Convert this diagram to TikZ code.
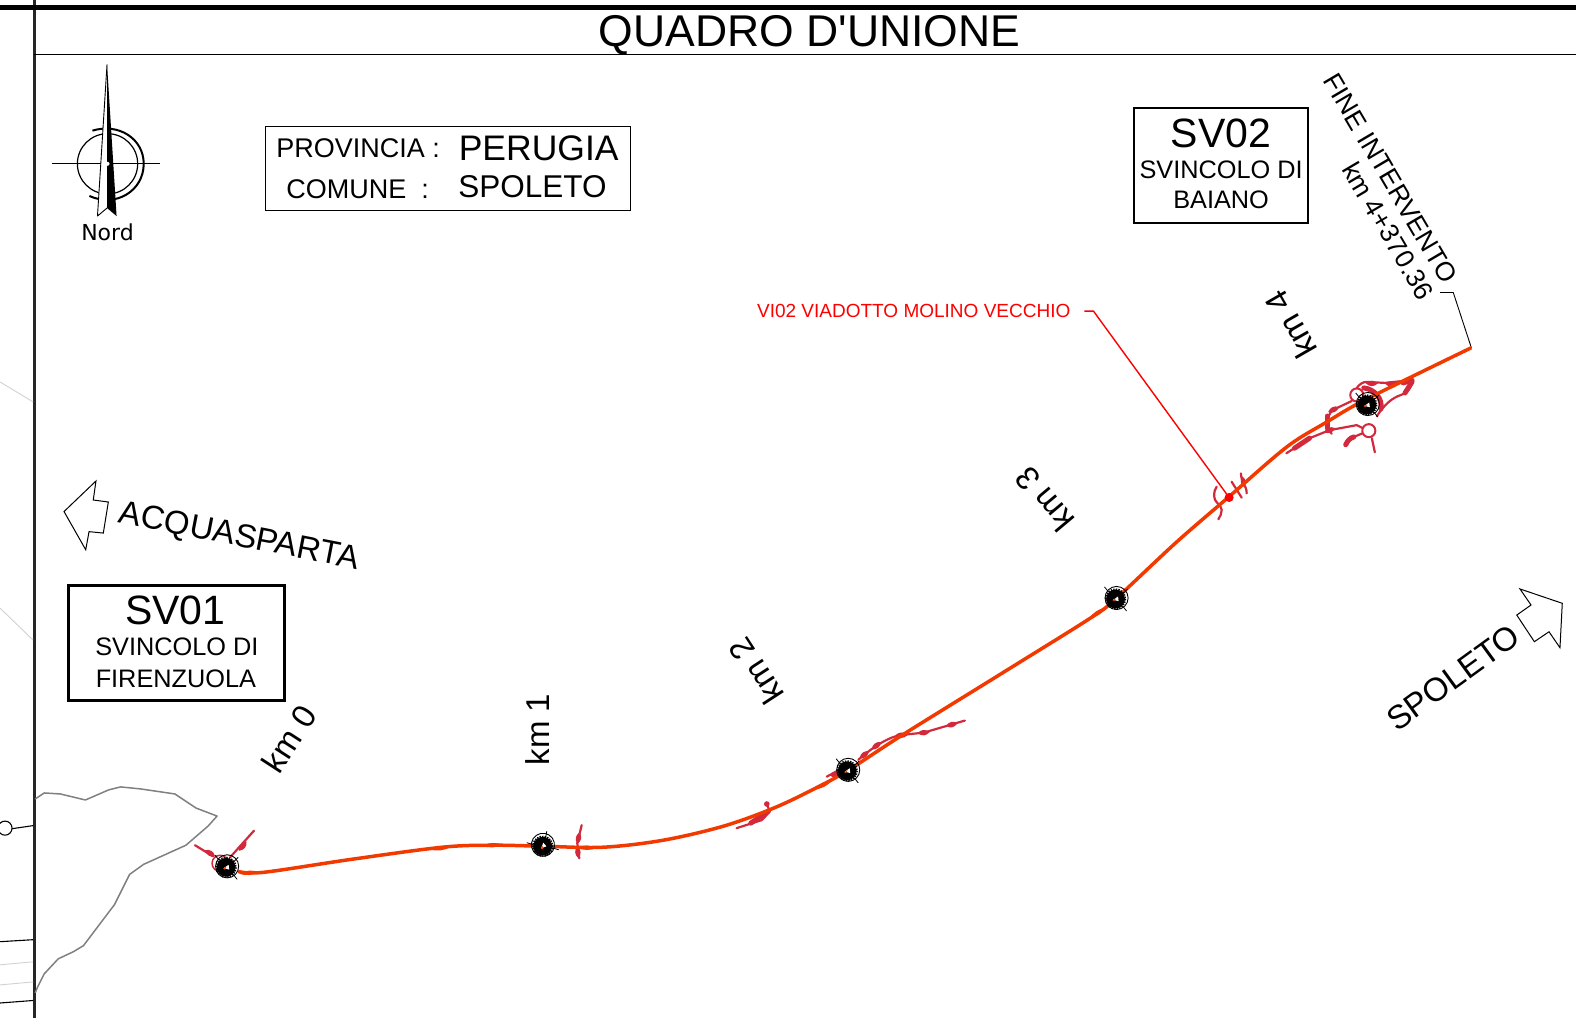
\documentclass[tikz,border=0pt]{standalone}
\usepackage{fontspec}
\setmainfont{Liberation Sans}
\newfontfamily\nordfont{DejaVu Sans}
\newfontfamily\titlefont{Liberation Sans}
\newcommand{\fs}[1]{\fontsize{#1pt}{#1pt}\selectfont}
\definecolor{road}{HTML}{F23A00}
\definecolor{ramp}{HTML}{D22A3C}
\tikzset{
  lbl/.style={inner sep=0pt,outer sep=0pt,text=black},
  frame/.style={draw=black,line width=2.6pt,inner sep=0pt},
  border/.style={draw=black,line cap=butt},
  roadline/.style={draw=road,line width=3.5pt,line join=round},
  rampline/.style={draw=ramp,line width=2.2pt,line join=round,line cap=round},
  rampfat/.style={draw=ramp,line width=5pt,line join=round,line cap=round},
  pics/junction/.style={code={
    \fill[black] (0,0) circle (9.4);
    \draw[black,line width=1.4pt,dash pattern=on 1.4pt off 1.2pt] (0,0) circle (9.9);
    \draw[black,line width=.9pt] (1,-1) circle (11.5);
    \draw[black,line width=.8pt] (-11,-12)--(-7,-7) (11,12)--(7,7) (12,-10)--(7,-5);
    \fill[white] (-2.5,.8) -- (2.5,-2.5) -- (3,2.2) -- cycle;
    \fill[road] (-3,1.2) -- (.5,-.8) -- (-1.5,2.4) -- cycle;
  }},
  pics/bulge/.style={code={\fill[ramp] (-6,0) .. controls (-2,-3.6) and (2,-3.6) .. (6,0) .. controls (2,3.6) and (-2,3.6) .. (-6,0) -- cycle;}},
  pics/roadbulge/.style={code={\fill[road] (-10,0) .. controls (-3,-2.9) and (3,-2.9) .. (10,0) .. controls (3,2.9) and (-3,2.9) .. (-10,0) -- cycle;}},
}
\begin{document}
\begin{tikzpicture}[x=1.005pt,y=-1.005pt]
\useasboundingbox (0,0) rectangle (1568.16,1012.94);
% frame
\draw[border,line width=3.2pt,draw=black!85] (34,0) -- (34,1012.94);
\draw[border,line width=5pt] (0,7) -- (1568.16,7);
\draw[border,line width=1.1pt] (34,54) -- (1568.16,54);
% left margin lines
\draw[black!18,line width=.9pt] (0,380) -- (33,400);
\draw[black!18,line width=.9pt] (0,605) -- (33,637);
\draw[black,line width=1.1pt] (9,825) -- (33,821.5);
\draw[black,line width=1.1pt,fill=white] (5,824) circle (7);
\draw[black,line width=1.1pt] (0,937) -- (33,935);
\draw[black!18,line width=.9pt] (0,960) -- (33,957);
\draw[black!18,line width=.9pt] (0,980) -- (33,977);
\draw[black,line width=1.1pt] (0,998) -- (33,995.5);
% boundary
\draw[black!50,line width=1.5pt,line join=round] (35,795) -- (44,789) -- (60,790) -- (85,796) -- (108,786) -- (120,783) -- (140,785) -- (174,790) -- (195,804) -- (216,812) -- (207,822) -- (185,841) -- (143,860) -- (129,870) -- (114,900) -- (83,941) -- (73,947) -- (58,954) -- (44,969) -- (37,983) -- (35,988);
% title
\node[lbl] (title) at (805.5,35) {\fs{44.5}\titlefont QUADRO D'UNIONE};
% north arrow
\draw[black,line width=1.2pt] (107,163) circle (30);
\draw[black,line width=2pt] (92,130) .. controls (118,122) and (143,138) .. (143,163) .. controls (143,190) and (115,207) .. (89,195);
\draw[black,line width=1.1pt] (52,163) -- (159,163);
\fill[white] (106.5,64) -- (97,215) -- (106.5,208) -- cycle;
\draw[black,line width=.9pt,line join=round] (106.5,64) -- (97,215) -- (106.5,207);
\fill[black] (106.5,64) -- (116,215) -- (106.5,207) -- cycle;
\fill[white] (107,163) circle (2);
\node[lbl] (nord) at (107,231) {\fs{22}\nordfont Nord};
% province box
\node[draw=black,line width=.9pt,minimum width=365pt,minimum height=84pt,inner sep=0pt] (prov) at (446,167.5) {};
\node[lbl,anchor=base west] (l1) at (275,156.5) {\fs{27}PROVINCIA :};
\node[lbl,anchor=base west] (v1) at (456.5,160) {\fs{35.5}PERUGIA};
\node[lbl,anchor=base west] (l2) at (285,198) {\fs{27}COMUNE~~:};
\node[lbl,anchor=base west] (v2) at (456,197) {\fs{31.5}SPOLETO};
% SV boxes
\node[frame,minimum width=174pt,minimum height=115pt] (sv2) at (1215,164.5) {};
\node[lbl] at (1215,133) {\fs{41}SV02};
\node[lbl] at (1215,169) {\fs{25.3}SVINCOLO DI};
\node[lbl] at (1215,199) {\fs{25.3}BAIANO};
\node[frame,minimum width=216pt,minimum height=115pt] (sv1) at (175.5,639.5) {};
\node[lbl] at (174.5,607) {\fs{41}SV01};
\node[lbl] at (176,644) {\fs{25.3}SVINCOLO DI};
\node[lbl] at (175,675) {\fs{25.3}FIRENZUOLA};
% km labels
\node[lbl,rotate=57] (km0) at (288,735) {\fs{33}km 0};
\node[lbl,rotate=90] (km1) at (535,726) {\fs{33}km 1};
\node[lbl,rotate=123] (km2) at (752,668) {\fs{33}km 2};
\node[lbl,rotate=130] (km3) at (1039,497) {\fs{33}km 3};
\node[lbl,rotate=120] (km4) at (1284,323) {\fs{33}km 4};
\node[lbl,rotate=-11] (acq) at (238,535) {\fs{33}ACQUASPARTA};
\node[lbl,rotate=36] (spo) at (1446,674) {\fs{33}SPOLETO};
% block arrows
\draw[black,line width=1pt,fill=white,line join=miter] (63.7,509) -- (95.5,478.6) -- (92.8,497.5) -- (107.8,499.5) -- (102.8,530.4) -- (88.6,529) -- (85.3,547) -- cycle;
\draw[black,line width=1pt,fill=white,line join=miter] (1512.4,586) -- (1554.5,600.3) -- (1552.2,644.5) -- (1541.3,628.6) -- (1526.7,638.5) -- (1509.2,612) -- (1523.4,602) -- cycle;
% fine intervento
\node[lbl,rotate=-59.5] (fine1) at (1383.5,177.5) {\fs{26.5}FINE INTERVENTO};
\node[lbl,rotate=-59.5] (fine2) at (1381.5,229.5) {\fs{26.5}km 4+370.36};
\coordinate (leader) at (1433,291);
\coordinate (bend) at (1446,291);
\coordinate (roadend) at (1464,346);
\draw[black,line width=.9pt] (leader) -- (bend) -- (roadend);
% VI02
\node[lbl,text=red,anchor=east] (vi) at (1065,309.5) {\fs{19}VI02 VIADOTTO MOLINO VECCHIO};
\coordinate (vibend) at (1088,309.5);
\coordinate (vl) at (1079,309.5);
\coordinate (vidot) at (1223,495);
\draw[red,line width=1.4pt] (vl) -- (vibend) -- (vidot);
% SV01 ramps
\draw[rampline] (194,841) -- (212,852);
\draw[rampline] (252.7,826.6) -- (229,853);
\draw[ramp,line width=1.5pt] (219,859) circle (8);
\pic[rotate=-32] at (209,849) {bulge};
\pic[rotate=50] at (241.5,842) {bulge};
% km1 ramp
\draw[rampline] (578.8,821) -- (574.4,839) -- (576.4,854);
\pic[rotate=80] at (575.6,834) {bulge};
\pic[rotate=-85] at (575,848) {bulge};
% km 2 ramp
\draw[rampline] (733,824) -- (758,816) -- (766,807.6) -- (763,800);
\draw[rampfat] (747,819) -- (762,809);
\fill[ramp] (763,800) circle (2.8);
% km 2.5 ramp
\draw[rampfat] (829,771) -- (839,766);
\draw[rampline] (822.6,772.8) -- (839,764);
\draw[rampline] (854,756) .. controls (870,742) and (885,733) .. (897,731.3) -- (919,729) -- (960,717);
\pic[rotate=38] at (872,742) {bulge};
\pic[rotate=0] at (897,731.5) {bulge};
\pic[rotate=5] at (919,729) {bulge};
\pic[rotate=15] at (947,721) {bulge};
\pic[rotate=38] at (860,751) {bulge};
% VI02 marks
\draw[rampline] (1210.6,484.2) .. controls (1207,490) and (1208,494) .. (1209,497.5) .. controls (1212,502) and (1215,503) .. (1215.6,507.5) .. controls (1215.6,511) and (1214,514) .. (1212.3,516.7);
\draw[rampline] (1225.5,479.3) -- (1235.5,495.2);
\draw[rampline] (1234.8,471) .. controls (1234.8,480) and (1240.5,483) .. (1240.5,490.9);
\pic[rotate=-80,scale=.9] at (1237,479.3) {bulge};
% SV02 ramps
\draw[rampline] (1345,399) -- (1326,408) .. controls (1320,414) and (1319,424) .. (1325,431.6);
\draw[rampfat] (1320.5,414) -- (1320.5,426);
\pic[rotate=25] at (1327,407.5) {bulge};
\draw[rampline] (1350,386) .. controls (1353,382) and (1356,380) .. (1360,380) -- (1378,381) -- (1406,378);
\draw[rampfat] (1396,381) -- (1405,378.5);
\draw[rampline] (1406,378) .. controls (1403,388) and (1400,391) .. (1394,393) .. controls (1385,396) and (1378,402) .. (1370,414);
\draw[rampfat] (1405,380) -- (1398,391);
\draw[draw=ramp,line width=5pt,line cap=round] (1357,386) .. controls (1367,387) and (1376,396) .. (1374,407);
\pic[rotate=0] at (1365,381.5) {bulge};
\pic[rotate=-3] at (1384,382) {bulge};
\draw[rampline] (1280,451) -- (1303,436) -- (1323,428) -- (1350,423) -- (1356,426);
\draw[rampfat] (1288,446) -- (1303,436);
\pic[rotate=20] at (1323,428) {bulge};
\draw[rampfat] (1339,442.5) .. controls (1341,438) and (1344,435.5) .. (1347,434.8);
\draw[rampline] (1347,434.8) -- (1356,431);
\draw[rampline] (1365,436) -- (1368,450);
\draw[ramp,line width=2pt,fill=white] (1362,428.5) circle (6.5);
\draw[ramp,line width=2pt,fill=white] (1350,393) circle (6.5);
% main road
\draw[roadline] plot[smooth,tension=.55] coordinates {(237,867) (262,868) (350,855) (440,843) (490,841) (540,842) (600,843) (660,836) (720,822) (770,804) (810,785) (843,767) (900,730) (1000,668) (1085,615) (1110,596) (1170,540) (1222,495) (1280,445) (1320,420) (1360,397) (1464,346)};
\fill[red] (vidot) circle (4.5);
% road thickening
\pic[rotate=7] at (438,844) {roadbulge};
\pic[rotate=0] at (584,843.5) {roadbulge};
\pic[rotate=3] at (490,841) {roadbulge};
\pic[rotate=27] at (819,781) {roadbulge};
\pic[rotate=33] at (1092,610) {roadbulge};
\pic[rotate=5] at (248,868.5) {roadbulge};
% junctions
\pic at (225,863) {junction};
\pic[rotate=35] at (540,842) {junction};
\pic at (843,767) {junction};
\pic at (1110,596) {junction};
\pic at (1360,403) {junction};
\end{tikzpicture}
\end{document}
